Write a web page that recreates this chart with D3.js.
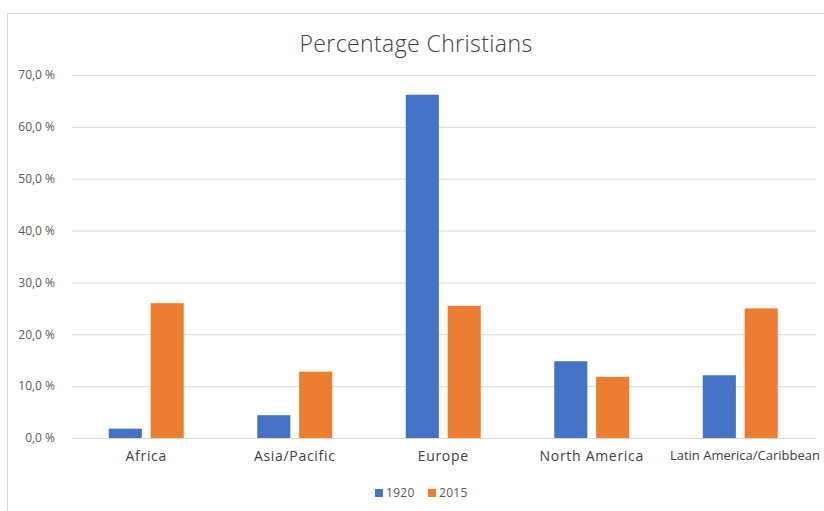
<!DOCTYPE html>
<html>
<head>
<meta charset="utf-8">
<script src="https://cdn.jsdelivr.net/npm/d3@7"></script>
<style>
  body { margin: 0; background: #fff; overflow: hidden; }
  svg { display: block; font-family: "Open Sans", "Noto Sans", sans-serif; }
</style>
</head>
<body>
<div id="chart"></div>
<script>
var regions = ["Africa", "Asia/Pacific", "Europe", "North America", "Latin America/Caribbean"];
var years = ["1920", "2015"];
var values1920 = [1.8, 4.4, 66.2, 14.8, 12.1];
var values2015 = [26.0, 12.8, 25.5, 11.8, 25.0];
var yTicks = [0, 10, 20, 30, 40, 50, 60, 70];
var colors = ["#4472c4", "#ed7d31"];

var data = regions.map(function(r, i) {
  return { region: r, vals: [values1920[i], values2015[i]] };
});

var svg = d3.select("#chart")
  .append("svg")
  .attr("width", 824)
  .attr("height", 511);

// chart frame (cut off right and bottom like the screenshot)
svg.append("rect")
  .attr("x", 7.5)
  .attr("y", 13.5)
  .attr("width", 900)
  .attr("height", 600)
  .attr("fill", "#fff")
  .attr("stroke", "#d9d9d9")
  .attr("stroke-width", 1);

svg.append("text")
  .attr("x", 416)
  .attr("y", 52)
  .attr("text-anchor", "middle")
  .attr("font-size", 23)
  .attr("font-weight", 300)
  .attr("letter-spacing", 0.4)
  .attr("fill", "#404040")
  .text("Percentage Christians");

var x0 = d3.scaleBand()
  .domain(regions)
  .range([72, 814.5])
  .paddingInner(0)
  .paddingOuter(0);

var x1 = d3.scaleBand()
  .domain(years)
  .range([36.75, x0.bandwidth() - 36.75])
  .paddingInner(0.21);

var y = d3.scaleLinear()
  .domain([0, 70])
  .range([438, 75]);

var fmt = function(d) { return d3.format(".1f")(d).replace(".", ",") + " %"; };

var yAxis = svg.append("g")
  .call(d3.axisLeft(y).tickValues(yTicks).tickSize(0).tickFormat(fmt))
  .attr("transform", "translate(58, 0)");
yAxis.select(".domain").remove();
yAxis.selectAll("text")
  .attr("font-family", "Open Sans, Noto Sans, sans-serif")
  .attr("font-size", 12)
  .attr("fill", "#595959");

svg.append("g")
  .selectAll("line")
  .data(yTicks)
  .join("line")
  .attr("x1", 72)
  .attr("x2", 816)
  .attr("y1", function(d) { return y(d) + 0.5; })
  .attr("y2", function(d) { return y(d) + 0.5; })
  .attr("stroke", "#d9d9d9")
  .attr("stroke-width", 1);

var groups = svg.append("g")
  .selectAll("g")
  .data(data)
  .join("g")
  .attr("transform", function(d) { return "translate(" + x0(d.region) + ",0)"; });

groups.selectAll("rect")
  .data(function(d) { return d.vals.map(function(v, i) { return { year: years[i], v: v, i: i }; }); })
  .join("rect")
  .attr("x", function(d) { return x1(d.year); })
  .attr("width", x1.bandwidth())
  .attr("y", function(d) { return y(d.v); })
  .attr("height", function(d) { return y(0) - y(d.v); })
  .attr("fill", function(d) { return colors[d.i]; });

var xAxis = svg.append("g")
  .attr("transform", "translate(0, 448)")
  .call(d3.axisBottom(x0).tickSize(0));
xAxis.select(".domain").remove();
xAxis.selectAll("text")
  .attr("font-family", "Open Sans, Noto Sans, sans-serif")
  .attr("font-size", 14)
  .attr("letter-spacing", 0.7)
  .attr("fill", "#404040");
// the long last label would overflow the right edge: tighten it so it fits
xAxis.selectAll(".tick")
  .filter(function(d) { return d === regions[regions.length - 1]; })
  .select("text")
  .attr("font-size", 13)
  .attr("letter-spacing", 0)
  .attr("text-anchor", "end")
  .attr("x", 820 - (x0(regions[4]) + x0.bandwidth() / 2));

var legend = svg.append("g")
  .attr("transform", "translate(375, 487)");

var items = legend.selectAll("g")
  .data(years)
  .join("g")
  .attr("transform", function(d, i) { return "translate(" + (i * 53) + ",0)"; });

items.append("rect")
  .attr("width", 8)
  .attr("height", 8)
  .attr("y", 2)
  .attr("fill", function(d, i) { return colors[i]; });

items.append("text")
  .attr("x", 11)
  .attr("y", 10)
  .attr("font-size", 12)
  .attr("letter-spacing", 0.3)
  .attr("fill", "#595959")
  .text(function(d) { return d; });
</script>
</body>
</html>
